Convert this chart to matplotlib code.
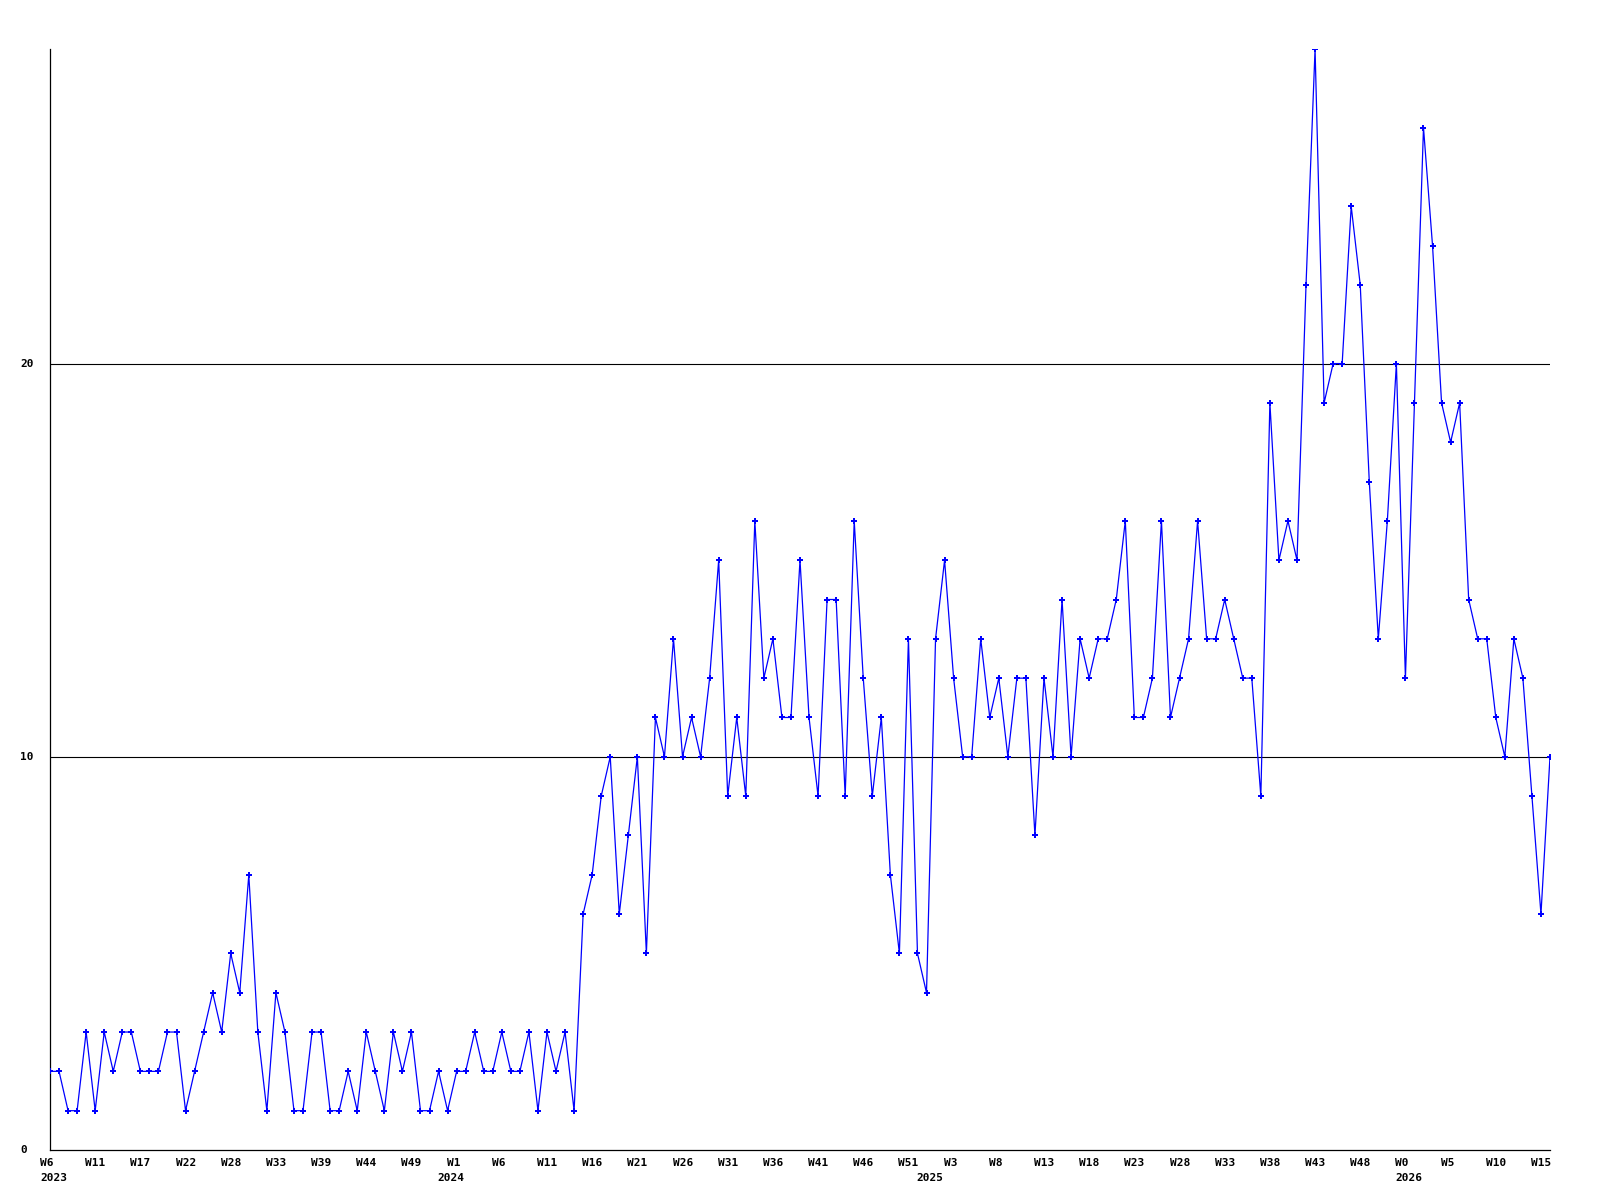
import numpy as np
import matplotlib
matplotlib.use("Agg")
import matplotlib.pyplot as plt
from matplotlib.transforms import offset_copy, blended_transform_factory

# weekly counts, 2023 W6 .. 2026 W15
values = [
    2, 2, 1, 1, 3, 1, 3, 2, 3, 3,
    2, 2, 2, 3, 3, 1, 2, 3, 4, 3,
    5, 4, 7, 3, 1, 4, 3, 1, 1, 3,
    3, 1, 1, 2, 1, 3, 2, 1, 3, 2,
    3, 1, 1, 2, 1, 2, 2, 3, 2, 2,
    3, 2, 2, 3, 1, 3, 2, 3, 1, 6,
    7, 9, 10, 6, 8, 10, 5, 11, 10, 13,
    10, 11, 10, 12, 15, 9, 11, 9, 16, 12,
    13, 11, 11, 15, 11, 9, 14, 14, 9, 16,
    12, 9, 11, 7, 5, 13, 5, 4, 13, 15,
    12, 10, 10, 13, 11, 12, 10, 12, 12, 8,
    12, 10, 14, 10, 13, 12, 13, 13, 14, 16,
    11, 11, 12, 16, 11, 12, 13, 16, 13, 13,
    14, 13, 12, 12, 9, 19, 15, 16, 15, 22,
    28, 19, 20, 20, 24, 22, 17, 13, 16, 20,
    12, 19, 26, 23, 19, 18, 19, 14, 13, 13,
    11, 10, 13, 12, 9, 6, 10,
]

week_labels = ["W6", "W11", "W17", "W22", "W28", "W33", "W39", "W44", "W49",
               "W1", "W6", "W11", "W16", "W21", "W26", "W31", "W36", "W41",
               "W46", "W51", "W3", "W8", "W13", "W18", "W23", "W28", "W33",
               "W38", "W43", "W48", "W0", "W5", "W10", "W15"]
week_step = 5

years = ["2023", "2024", "2025", "2026"]
year_at = [0, 44, 97, 150]

y_labels = [0, 10, 20]

font = dict(family="DejaVu Sans Mono", fontweight="bold", fontsize=8)

fig = plt.figure(figsize=(16, 12), dpi=100)
ax = fig.add_axes([50 / 1600, 50 / 1200, 1500 / 1600, 1101 / 1200])

x = np.arange(len(values))
ax.plot(x, values, color="#0000ff", linewidth=0.9, marker="P",
        markersize=4.5, markeredgewidth=0, zorder=3)

for v in y_labels[1:]:
    ax.axhline(v, color="black", linewidth=0.8, zorder=1)

ax.set_xlim(0, len(values) - 1)
ax.set_ylim(0, 28)
ax.set_xticks([])
ax.set_yticks([])
for s in ["top", "right"]:
    ax.spines[s].set_visible(False)
for s in ["left", "bottom"]:
    ax.spines[s].set_linewidth(0.9)

# x labels: left edge placed a bit before the tick
xtr = offset_copy(ax.get_xaxis_transform(), fig=fig, x=-10, y=-8, units="dots")
for i, lab in enumerate(week_labels):
    ax.text(i * week_step, 0, lab, transform=xtr, ha="left", va="top",
            clip_on=False, **font)
ytr = offset_copy(ax.get_xaxis_transform(), fig=fig, x=-10, y=-23, units="dots")
for pos, lab in zip(year_at, years):
    ax.text(pos, 0, lab, transform=ytr, ha="left", va="top",
            clip_on=False, **font)

# y labels at fixed left margin
ltr = blended_transform_factory(fig.transFigure, ax.transData)
for v in y_labels:
    ax.text(20 / 1600, v, str(v), transform=ltr, ha="left", va="center",
            clip_on=False, **font)

fig.savefig("out.png", dpi=100, facecolor="white")
